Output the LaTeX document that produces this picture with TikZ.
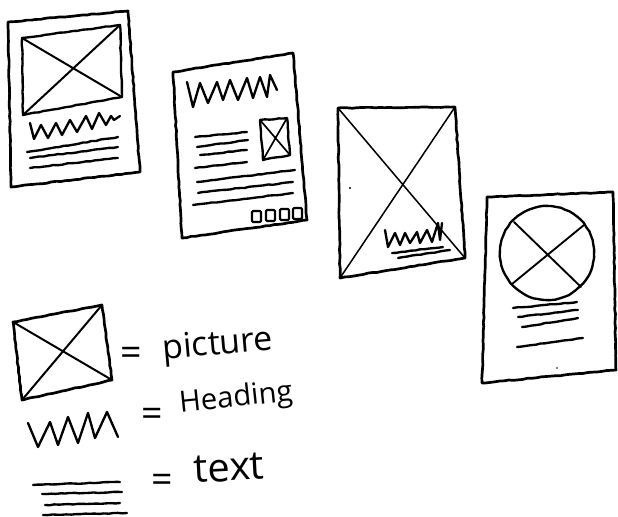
\documentclass[tikz,border=0pt]{standalone}
\usepackage{fontspec}
\setmainfont{Open Sans}
\usetikzlibrary{decorations.pathmorphing}

\begin{document}
\begin{tikzpicture}[x=0.03cm, y=-0.03cm,
		line cap=round, line join=round,
		wobble/.style={decorate, decoration={random steps, segment length=4pt, amplitude=0.35pt}},
		sheet/.style={draw, wobble, line width=2.3pt},
		cross/.style={draw, line width=1.7pt},
		zig/.style={draw, line width=2pt},
		txtline/.style={draw, wobble, line width=2pt},
		label/.style={font=\fontsize{#1}{#1}\selectfont, inner sep=0pt}]
	\useasboundingbox (0,0) rectangle (618,517);
	% Blatt 1: Bild oben
	\draw[sheet] (8,22) -- (128,11) -- (140,172) -- (11,187) -- cycle;
	\draw[sheet, line width=2pt] (22,38) -- (120,25) -- (122,97) -- (23,115) -- cycle;
	\draw[cross] (22,38) -- (122,97) (120,25) -- (23,115);
	\draw[zig] plot coordinates {(30,123) (34,139) (41,125) (48,138) (56,123) (62,135) (70,120) (77,132) (86,116) (92,129) (99,113) (106,125) (111,116) (114,120) (120,116)};
	\foreach \ya/\yb/\xa in {152/137/27, 158/147/30, 168/158/30}
		\draw[txtline] (\xa,\ya) -- (118,\yb);
	% Blatt 2: Ueberschrift, kleines Bild, Knoepfe
	\draw[sheet] (173,72) -- (293,53) -- (307,220) -- (182,238) -- cycle;
	\draw[zig] plot coordinates {(187,82) (193,107) (200,83) (208,103) (217,82) (223,100) (230,80) (238,100) (247,78) (253,98) (260,77) (267,97) (270,75) (277,90)};
	\draw[sheet, line width=2pt] (260,120) -- (287,118) -- (290,155) -- (263,160) -- cycle;
	\draw[cross, line width=1.4pt] (260,120) -- (290,155) (287,118) -- (263,160);
	\foreach \xa/\ya/\xb/\yb in {195/137/247/132, 197/147/248/140, 200/155/247/150, 195/168/247/162, 197/182/295/170, 198/193/293/182, 193/205/293/193}
		\draw[txtline] (\xa,\ya) -- (\xb,\yb);
	\foreach \x/\y in {252/211, 266/210, 280/209, 293/208}
		\draw[line width=1.8pt, rounded corners=1pt] (\x,\y) rectangle ++(9,11);
	% Blatt 3: ganzes Bild mit Ueberschrift
	\draw[sheet] (338,108) -- (455,107) -- (465,258) -- (340,278) -- cycle;
	\draw[cross, line width=1.3pt] (338,108) -- (465,258) (455,107) -- (340,278);
	\draw[zig] plot coordinates {(385,230) (388,247) (395,233) (400,245) (405,233) (410,243) (417,232) (420,243) (427,230) (432,242) (438,223) (440,240) (442,223)};
	\draw[txtline] (392,253) -- (443,247);
	\draw[txtline] (398,258) -- (450,250);
	\fill (350,188) circle (1pt);
	% Blatt 4: rundes Bild
	\draw[sheet] (487,197) -- (613,192) -- (616,370) -- (482,383) -- cycle;
	\draw[sheet, line width=2pt] (547,253) circle (47);
	\draw[cross, line width=1.6pt] (514,222) -- (581,287) (584,225) -- (512,284);
	\foreach \xa/\ya/\xb/\yb in {513/308/577/302, 518/317/578/310, 522/327/578/318, 517/347/583/338}
		\draw[txtline] (\xa,\ya) -- (\xb,\yb);
	\fill (557,368) circle (0.8pt);
	% Legende
	\draw[sheet] (13,322) -- (102,305) -- (112,380) -- (22,400) -- cycle;
	\draw[cross] (13,322) -- (112,380) (102,305) -- (22,400);
	\node[label=32] (eq1) at (131,356) {=};
	\node[label=29, rotate=5] (picture) at (218,346) {picture};
	\draw[zig] plot coordinates {(28,423) (38,447) (50,422) (58,445) (68,417) (78,443) (88,413) (95,438) (107,412) (118,437)};
	\node[label=32] (eq2) at (152,417) {=};
	\node[label=25, rotate=6] (heading) at (236,399) {Heading};
	\foreach \xa/\ya/\xb/\yb in {33/485/120/482, 42/494/122/492, 45/505/120/503, 43/515/127/513}
		\draw[txtline] (\xa,\ya) -- (\xb,\yb);
	\node[label=32] (eq3) at (162,483) {=};
	\node[label=34, rotate=3] (text) at (229,468) {text};
\end{tikzpicture}
\end{document}
